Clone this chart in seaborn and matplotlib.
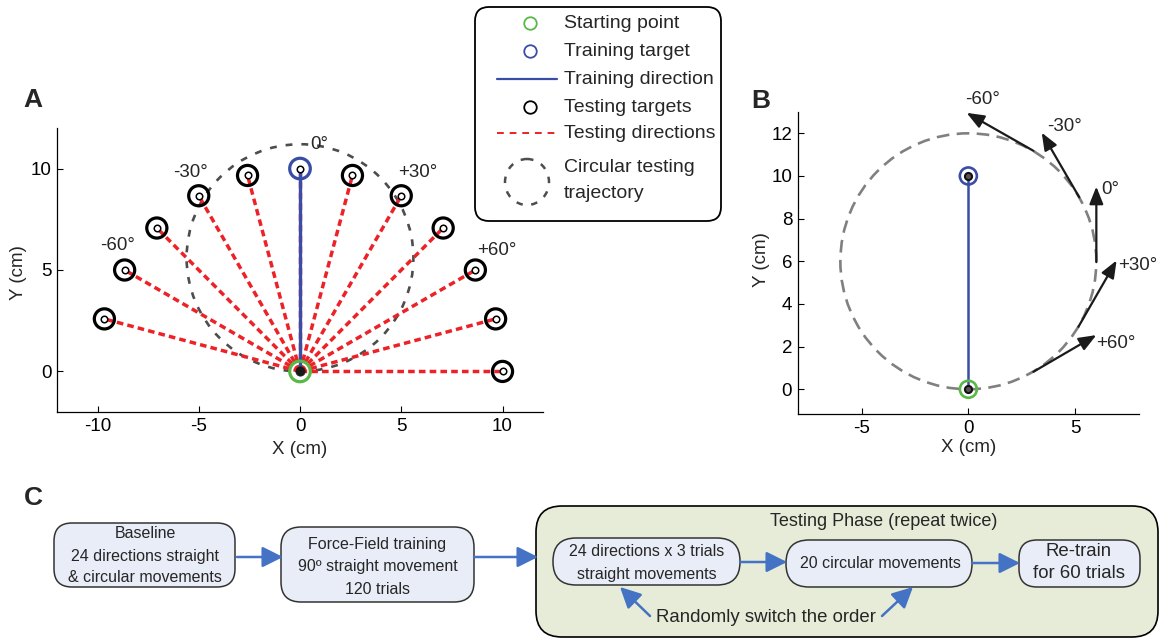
import numpy as np
import pandas as pd
import matplotlib
matplotlib.use("Agg")
import matplotlib.pyplot as plt
import seaborn as sns
from matplotlib.patches import FancyBboxPatch, Circle, Ellipse

# ------------------------------------------------------------------ data
# Panel A : testing targets (cm), training target and start point
target_x = [10.0, 9.66, 8.66, 7.07, 5.0, 2.59, 0.0, -2.59, -5.0, -7.07, -8.66, -9.66]
target_y = [0.0, 2.59, 5.0, 7.07, 8.66, 9.66, 10.0, 9.66, 8.66, 7.07, 5.0, 2.59]
start_point = [0.0, 0.0]
training_target = [0.0, 10.0]
circle_A = [0.0, 5.6, 5.6]          # centre x, centre y, radius
angle_labels_A = ["-60°", "-30°", "0°", "+30°", "+60°"]
angle_label_A_x = [-9.0, -5.4, 0.95, 5.8, 9.7]
angle_label_A_y = [6.2, 9.8, 11.2, 9.8, 5.95]
ticks_A_x = [-10, -5, 0, 5, 10]
ticks_A_y = [0, 5, 10]

# Panel B : circular trajectory and probe arrows
circle_B = [0.0, 6.0, 6.0]
arrow_labels_B = ["+60°", "+30°", "0°", "-30°", "-60°"]
arrow_x0 = [3.05, 5.16, 6.0, 5.2, 3.05]
arrow_y0 = [0.82, 2.93, 5.96, 9.0, 11.18]
arrow_x1 = [6.0, 6.95, 6.0, 3.44, -0.08]
arrow_y1 = [2.54, 6.04, 9.5, 12.03, 12.96]
arrow_label_x = [6.0, 7.03, 6.25, 3.67, -0.16]
arrow_label_y = [2.15, 5.8, 9.38, 12.34, 13.59]
ticks_B_x = [-5, 0, 5]
ticks_B_y = [0, 2, 4, 6, 8, 10, 12]

# Legend
legend_labels = ["Starting point", "Training target", "Training direction",
                 "Testing targets", "Testing directions",
                 "Circular testing\ntrajectory"]

# Panel C : protocol flow chart
stage_baseline = ["Baseline", "24 directions straight", "& circular movements"]
stage_training = ["Force-Field training", "90º straight movement", "120 trials"]
testing_title = "Testing Phase (repeat twice)"
stage_straight = ["24 directions x 3 trials", "straight movements"]
stage_circular = ["20 circular movements"]
stage_retrain = ["Re-train", "for 60 trials"]
switch_note = "Randomly switch the order"

# ------------------------------------------------------------------ style
sns.set_theme(style="white")
plt.rcParams["font.family"] = ["Liberation Sans", "DejaVu Sans"]
plt.rcParams["axes.edgecolor"] = "black"
plt.rcParams["axes.unicode_minus"] = False

RED = "#EC2227"
BLUE = "#3A4DA6"
GREEN = "#58B947"
GRAY_A = "#4D4D4D"
GRAY_B = "#808080"
FLOW = "#4472C4"
BOX_FC = "#E9EDF7"
TEST_FC = "#E7ECD8"
FS = 13.5

W, H = 1159, 640
fig = plt.figure(figsize=(W / 100, H / 100), dpi=100)


def px_axes(x0, x1, y0, y1):
    """axes rectangle from pixel edges (y from top)."""
    return fig.add_axes([x0 / W, 1 - y1 / H, (x1 - x0) / W, (y1 - y0) / H])


def style_axes(ax):
    sns.despine(ax=ax)
    for s in ("left", "bottom"):
        ax.spines[s].set_linewidth(0.9)
        ax.spines[s].set_color("black")
    ax.tick_params(direction="in", length=4, width=0.8, labelsize=FS, pad=4,
                   colors="black", left=True, bottom=True)


# ------------------------------------------------------------------ Panel A
axA = px_axes(57, 543, 128, 412)
axA.set_xlim(-12, 12)
axA.set_ylim(-2, 12)

axA.add_patch(Circle((circle_A[0], circle_A[1]), circle_A[2], fill=False,
                     ec=GRAY_A, lw=1.9, ls=(0, (2.6, 3.4)), zorder=1))

rows = []
for i, (tx, ty) in enumerate(zip(target_x, target_y)):
    rows.append({"x": start_point[0], "y": start_point[1], "dir": i})
    rows.append({"x": tx, "y": ty, "dir": i})
dirs = pd.DataFrame(rows)
sns.lineplot(data=dirs, x="x", y="y", units="dir", estimator=None, sort=False,
             color=RED, lw=2.5, linestyle=(0, (1.9, 1.2)), ax=axA, zorder=2)

train = pd.DataFrame({"x": [start_point[0], training_target[0]],
                      "y": [start_point[1], training_target[1]]})
sns.lineplot(data=train, x="x", y="y", sort=False, estimator=None,
             color=BLUE, lw=2.4, ax=axA, zorder=3)

tt = pd.DataFrame({"x": target_x, "y": target_y})
test_only = tt[~((tt.x == training_target[0]) & (tt.y == training_target[1]))]
sns.scatterplot(data=test_only, x="x", y="y", s=210, facecolor="none",
                edgecolor="black", linewidth=2.3, ax=axA, zorder=4, legend=False)
sns.scatterplot(x=[training_target[0]], y=[training_target[1]], s=220,
                facecolor="none", edgecolor=BLUE, linewidth=2.3, ax=axA,
                zorder=4, legend=False)
sns.scatterplot(data=tt, x="x", y="y", s=22, facecolor="white",
                edgecolor="black", linewidth=1.1, ax=axA, zorder=5, legend=False)
sns.scatterplot(x=[start_point[0]], y=[start_point[1]], s=220,
                facecolor="none", edgecolor=GREEN, linewidth=2.3, ax=axA,
                zorder=5, legend=False)
sns.scatterplot(x=[start_point[0]], y=[start_point[1]], s=45,
                facecolor="#1a1a1a", edgecolor="#1a1a1a", linewidth=0.5,
                ax=axA, zorder=6, legend=False)

for lab, lx, ly in zip(angle_labels_A, angle_label_A_x, angle_label_A_y):
    axA.text(lx, ly, lab, ha="center", va="center", fontsize=FS, zorder=7)

axA.set_xticks(ticks_A_x)
axA.set_yticks(ticks_A_y)
axA.set_xlabel("X (cm)", fontsize=FS, va="center")
axA.set_ylabel("Y (cm)", fontsize=FS, va="center")
axA.xaxis.set_label_coords(0.5, (412 - 450) / 284)
axA.yaxis.set_label_coords((18.5 - 57) / 486, (412 - 273) / 284)
style_axes(axA)

# ------------------------------------------------------------------ Panel B
axB = px_axes(797.7, 1139, 112, 414)
axB.set_xlim(-8, 8)
axB.set_ylim(-1.16, 13.0)

axB.add_patch(Circle((circle_B[0], circle_B[1]), circle_B[2], fill=False,
                     ec=GRAY_B, lw=1.9, ls=(0, (4.8, 2.8)), zorder=1))
sns.lineplot(data=train, x="x", y="y", sort=False, estimator=None,
             color=BLUE, lw=1.8, ax=axB, zorder=3)
sns.scatterplot(x=[training_target[0]], y=[training_target[1]], s=150,
                facecolor="none", edgecolor=BLUE, linewidth=1.9, ax=axB,
                zorder=4, legend=False)
sns.scatterplot(x=[start_point[0]], y=[start_point[1]], s=150,
                facecolor="none", edgecolor=GREEN, linewidth=1.9, ax=axB,
                zorder=4, legend=False)
sns.scatterplot(x=[start_point[0], training_target[0]],
                y=[start_point[1], training_target[1]], s=26,
                facecolor="#555555", edgecolor="#111111", linewidth=1.5,
                ax=axB, zorder=5, legend=False)

for lab, x0, y0, x1, y1, lx, ly in zip(arrow_labels_B, arrow_x0, arrow_y0,
                                        arrow_x1, arrow_y1, arrow_label_x,
                                        arrow_label_y):
    axB.annotate("", xy=(x1, y1), xytext=(x0, y0),
                 arrowprops=dict(arrowstyle="-|>,head_length=0.75,head_width=0.3",
                                 color="#1a1a1a", lw=1.6, mutation_scale=14,
                                 shrinkA=0, shrinkB=0), zorder=6)
    axB.text(lx, ly, lab, ha="left", va="center", fontsize=FS, zorder=7)

axB.set_xticks(ticks_B_x)
axB.set_yticks(ticks_B_y)
axB.set_xlabel("X (cm)", fontsize=FS, va="center")
axB.set_ylabel("Y (cm)", fontsize=FS, va="center")
axB.xaxis.set_label_coords(0.5, (414 - 448) / 302)
axB.yaxis.set_label_coords((762 - 797.7) / 341.3, (414 - 260) / 302)
style_axes(axB)

# ------------------------------------------------------------------ overlay (legend + panel C)
ov = fig.add_axes([0, 0, 1, 1])
ov.set_xlim(0, W)
ov.set_ylim(H, 0)
ov.axis("off")
ov.patch.set_alpha(0)

# legend box
ov.add_patch(FancyBboxPatch((475, 7), 246, 214,
                            boxstyle="round,pad=0,rounding_size=14",
                            fc="white", ec="black", lw=1.3, zorder=1))
row_y = [23, 51, 79, 107, 133, 181]
mx, tx0 = 530, 564
ov.plot([mx], [row_y[0]], "o", ms=9, mfc="none", mec=GREEN, mew=1.3, zorder=2)
ov.plot([mx], [row_y[1]], "o", ms=9, mfc="none", mec=BLUE, mew=1.3, zorder=2)
ov.plot([497, 557], [row_y[2]] * 2, color=BLUE, lw=1.6, zorder=2)
ov.plot([mx], [row_y[3]], "o", ms=9, mfc="none", mec="black", mew=1.3, zorder=2)
ov.plot([497, 557], [row_y[4]] * 2, color=RED, lw=1.4, ls=(0, (3.5, 3.0)), zorder=2)
ov.add_patch(Ellipse((527, 182), 44, 46, fill=False, ec=GRAY_A, lw=1.8,
                     ls=(0, (2.6, 3.4)), zorder=2))
for lab, y in zip(legend_labels[:5], row_y[:5]):
    ov.text(tx0, y, lab, ha="left", va="center", fontsize=14, zorder=3)
ov.text(tx0, 168, legend_labels[5].split("\n")[0], ha="left", va="center",
        fontsize=14, zorder=3)
ov.text(tx0, 193, legend_labels[5].split("\n")[1], ha="left", va="center",
        fontsize=14, zorder=3)


def rbox(x0, y0, x1, y1, r, fc, ec="#333333", lw=1.1):
    ov.add_patch(FancyBboxPatch((x0, y0), x1 - x0, y1 - y0,
                                boxstyle=f"round,pad=0,rounding_size={r}",
                                fc=fc, ec=ec, lw=lw, zorder=1))


def lines(cx, cy, txt, fs, step=22):
    n = len(txt)
    for k, t in enumerate(txt):
        ov.text(cx, cy + (k - (n - 1) / 2) * step, t, ha="center",
                va="center", fontsize=fs, zorder=3)


def flow_arrow(x0, y0, x1, y1):
    ov.annotate("", xy=(x1, y1), xytext=(x0, y0),
                arrowprops=dict(arrowstyle="-|>,head_length=0.9,head_width=0.45",
                                color=FLOW, lw=1.8, mutation_scale=14,
                                shrinkA=0, shrinkB=0), zorder=4)


rbox(536, 506, 1158, 637, 26, TEST_FC, ec="black", lw=1.2)
rbox(54, 523, 235, 587, 18, BOX_FC)
rbox(281, 527, 474, 602, 20, BOX_FC)
rbox(553, 538, 740, 585, 23, BOX_FC)
rbox(786, 540, 972, 587, 23, BOX_FC)
rbox(1019, 540, 1140, 587, 18, BOX_FC)

lines(145, 556, stage_baseline, 11.5)
lines(377.5, 567, stage_training, 11.5)
lines(647, 563, stage_straight, 11.5)
lines(880, 563, stage_circular, 11.5)
lines(1079, 562, stage_retrain, 13.4)
ov.text(884, 522, testing_title, ha="center", va="center", fontsize=13, zorder=3)
ov.text(766, 617, switch_note, ha="center", va="center", fontsize=13.4, zorder=3)

flow_arrow(237, 557, 283, 557)
flow_arrow(474, 557, 538, 557)
flow_arrow(740, 562, 787, 562)
flow_arrow(972, 563, 1020, 563)
flow_arrow(650, 616, 620, 587)
flow_arrow(882, 616, 913, 587)

# panel letters
for lab, x, y in [("A", 33, 100), ("B", 761, 101), ("C", 33, 498)]:
    fig.text(x / W, 1 - y / H, lab, ha="center", va="center", fontsize=19,
             fontweight="bold")

fig.savefig("out.png", dpi=100)
